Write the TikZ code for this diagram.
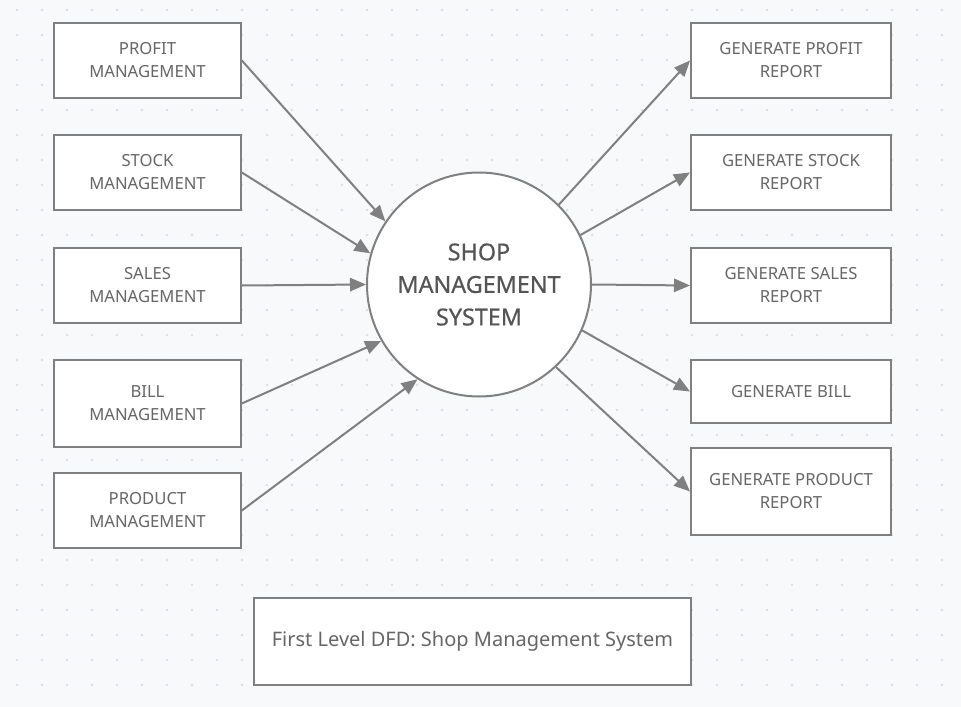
\documentclass[tikz,border=0pt]{standalone}
\usepackage{fontspec}
\setmainfont{Noto Sans}
\usetikzlibrary{arrows.meta, positioning}
\definecolor{bgcol}{HTML}{F8F9FB}
\definecolor{dotcol}{HTML}{DCDFE4}
\definecolor{linecol}{HTML}{808080}
\definecolor{textcol}{HTML}{666666}
\definecolor{titlecol}{HTML}{555555}
\tikzset{
    entity/.style={draw=linecol, line width=1.5pt, fill=white, text=textcol, align=center,
        minimum width=140pt, minimum height=56pt, inner sep=0pt,
        font=\fontsize{12.5}{17.25}\selectfont},
    report/.style={entity, minimum width=150pt},
    process/.style={circle, draw=linecol, line width=1.5pt, fill=white, text=titlecol,
        minimum size=168pt, inner sep=0pt, align=center,
        font=\fontsize{17.5}{24.4}\selectfont\addfontfeature{FakeBold=0.6}},
    flow/.style={-{Triangle[length=12pt, width=10pt]}, draw=linecol, line width=1.5pt}
}

\begin{document}
\begin{tikzpicture}[x=0.75pt, y=-0.75pt]
        \useasboundingbox (0,0) rectangle (961,707);
        \fill[bgcol] (0,0) rectangle (961,707);
        \foreach \i in {0,...,37}
            \foreach \j in {0,...,27}
                \fill[dotcol] (17+25*\i, 10+25*\j) circle (1.1pt);

        \node[process] (sys) at (479,284.5) {SHOP\\MANAGEMENT\\SYSTEM};

        \node[entity] (profit) at (147.5,60.5) {PROFIT\\MANAGEMENT};
        \node[entity] (stock) at (147.5,172.5) {STOCK\\MANAGEMENT};
        \node[entity] (sales) at (147.5,285.5) {SALES\\MANAGEMENT};
        \node[entity, minimum height=65pt] (bill) at (147.5,403.5) {BILL\\MANAGEMENT};
        \node[entity] (product) at (147.5,510.5) {PRODUCT\\MANAGEMENT};

        \node[report] (profitrep) at (791,60.5) {GENERATE PROFIT\\REPORT};
        \node[report] (stockrep) at (791,172.5) {GENERATE STOCK\\REPORT};
        \node[report] (salesrep) at (791,285.5) {GENERATE SALES\\REPORT};
        \node[report, minimum height=47pt] (billrep) at (791,391.5) {GENERATE BILL};
        \node[report, minimum height=65pt] (productrep) at (791,491.5) {GENERATE PRODUCT\\REPORT};

        \node[entity, minimum width=327.5pt, minimum height=65pt, font=\fontsize{15}{17}\selectfont] (caption) at (472.5,641.5) {First Level DFD: Shop Management System};

        % inputs to the process
        \draw[flow] (profit.east) -- (sys.146.7);
        \draw[flow] (stock.east) -- (sys.164.4);
        \draw[flow] (sales.east) -- (sys.west);
        \draw[flow] (bill.east) -- (sys.210.7);
        \draw[flow] (product.east) -- (sys.237.7);

        % outputs
        \draw[flow] (sys.45) -- (profitrep.west);
        \draw[flow] (sys.26.3) -- (stockrep.west);
        \draw[flow] (sys.east) -- (salesrep.west);
        \draw[flow] (sys.-24.8) -- (billrep.west);
        \draw[flow] (sys.-47.4) -- (productrep.west);
    \end{tikzpicture}
\end{document}
